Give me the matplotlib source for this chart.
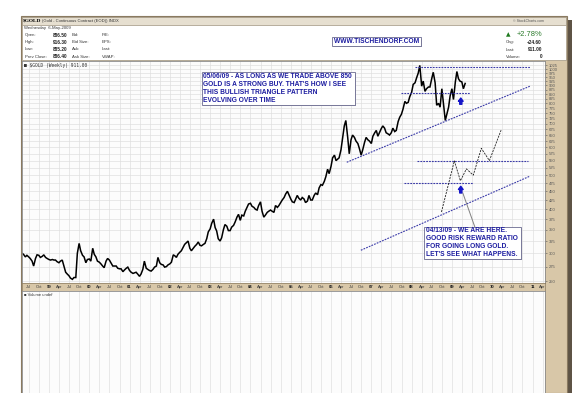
import numpy as np
import pandas as pd
import matplotlib
matplotlib.use("Agg")
import matplotlib.pyplot as plt
from matplotlib.patches import Rectangle
from matplotlib.ticker import NullLocator, NullFormatter

W, H = 585, 393

# semi-monthly closes of $GOLD (1st and 15th of each month)
gold_start = "1998-05-01"
gold_close = [
    300, 298, 293, 296, 293, 290, 285, 276, 290, 297, 296, 292, 294, 297, 292, 290,
    288, 287, 288, 287, 287, 284, 282, 285, 287, 277, 265, 262, 259, 255, 253, 256, 256, 300, 320, 305, 296, 293, 282, 288,
    289, 285, 310, 298, 293, 285, 283, 280, 276, 273, 285, 290, 287, 282, 276, 276, 276, 272, 271, 271, 266, 269, 272, 274,
    268, 265, 263, 264, 265, 262, 258, 262, 270, 285, 272, 270, 268, 267, 270, 274, 276, 292, 282, 279, 278, 274, 275, 278,
    280, 283, 297, 295, 292, 298, 302, 305, 312, 318, 322, 325, 310, 305, 310, 314, 318, 323, 316, 315, 318, 320, 330, 345,
    352, 365, 375, 355, 347, 330, 325, 332, 350, 362, 358, 348, 348, 356, 360, 368, 380, 387, 372, 385, 383, 395, 405, 414,
    416, 408, 405, 400, 398, 410, 420, 395, 380, 385, 392, 395, 398, 395, 392, 410, 405, 410, 418, 425, 432, 442, 450, 440,
    428, 420, 418, 428, 438, 430, 425, 432, 428, 418, 422, 438, 425, 425, 438, 445, 440, 460, 470, 468, 480, 495, 520, 505,
    530, 560, 570, 550, 555, 560, 590, 635, 690, 715, 640, 575, 630, 650, 640, 625, 615, 595, 570, 590, 620, 640, 630, 625,
    615, 645, 660, 670, 645, 660, 678, 690, 680, 660, 655, 650, 660, 680, 665, 670, 710, 730, 745, 770, 810, 800, 805, 835,
    860, 905, 915, 945, 975, 1025, 895, 925, 865, 880, 890, 890, 940, 980, 915, 790, 800, 780, 880, 800, 715, 745, 780, 840,
    880, 820, 920, 985, 940, 925, 920, 880, 911,
]

y_ticks = list(range(250, 1026, 25))

# drawn annotations (decimal year, price)
top_line_x, top_line_y = [2008.08, 2010.94], [1013, 1013]
mid_line_x, mid_line_y = [2007.73, 2009.45], [853, 853]
upper_trend_x, upper_trend_y = [2006.39, 2010.94], [544, 895]
lower_trend_x, lower_trend_y = [2006.74, 2010.94], [306, 497]
low_line_x, low_line_y = [2007.81, 2009.52], [476, 476]
proj_line_x, proj_line_y = [2008.13, 2010.89], [549, 549]
zigzag_x = [2008.74, 2009.06, 2009.21, 2009.36, 2009.53, 2009.73, 2009.93, 2010.22]
zigzag_y = [393, 549, 482, 521, 500, 596, 550, 671]

TAN = "#d8c7a8"
BLUE_TXT = "#1c1ca0"
DASH_BLUE = "#3a3aa8"

dates = pd.date_range(gold_start, periods=len(gold_close), freq="SMS")
xs = dates.year + (dates.dayofyear - 1) / 365.25

fig = plt.figure(figsize=(W / 100, H / 100), dpi=100)
fig.patch.set_facecolor("white")


def px_axes(x0, y0, x1, y1):
    return fig.add_axes([x0 / W, 1 - y1 / H, (x1 - x0) / W, (y1 - y0) / H])


def prect(x0, y0, x1, y1, **kw):
    r = Rectangle((x0 / W, 1 - y1 / H), (x1 - x0) / W, (y1 - y0) / H,
                  transform=fig.transFigure, **kw)
    fig.add_artist(r)
    return r


def ftext(x, y, s, **kw):
    kw.setdefault("va", "center")
    kw.setdefault("family", ["Liberation Sans", "DejaVu Sans"])
    return fig.text(x / W, 1 - y / H, s, **kw)


# frame, shadow and tan background
prect(567, 20, 572, 393, facecolor="#5e5345", edgecolor="none", zorder=-3)
prect(21, 16, 567, 393, facecolor=TAN, edgecolor="#8a7a60", lw=0.8, zorder=-2)
prect(22, 17, 566, 60, facecolor="white", edgecolor="#a09480", lw=0.5, zorder=-1)
prect(22, 17, 566, 24.5, facecolor="#e6dfd0", edgecolor="#a09480", lw=0.5, zorder=-1)

xmin, xmax = 1998.33, 2011.31
quarters = [y + m / 12 for y in range(1998, 2012) for m in (0, 3, 6, 9)]
quarters = [q for q in quarters if xmin < q < xmax]

# price panel
ax = px_axes(22, 61, 545, 283)
ax.set_facecolor("#fcfcfc")
ax.set_yscale("log")
ax.set_xlim(xmin, xmax)
ax.set_ylim(247, 1055)
ax.plot(xs, gold_close, color="black", lw=1.1, solid_joinstyle="miter")

ax.yaxis.tick_right()
ax.set_yticks(y_ticks)
ax.set_yticklabels([str(v) for v in y_ticks], fontsize=3.0, color="#444444",
                   family="Liberation Sans")
ax.yaxis.set_minor_locator(NullLocator())
ax.yaxis.set_minor_formatter(NullFormatter())
ax.tick_params(axis="y", length=1.5, width=0.4, pad=1.5, colors="#555555")
ax.set_xticks(quarters)
ax.tick_params(axis="x", length=0, labelbottom=False)
ax.grid(True, color="#dddddd", lw=0.45)
for s in ax.spines.values():
    s.set_color("#8a8a8a")
    s.set_linewidth(0.6)

dash = (0, (1.6, 1.0))
for lx, ly in [(top_line_x, top_line_y), (mid_line_x, mid_line_y),
               (upper_trend_x, upper_trend_y), (lower_trend_x, lower_trend_y),
               (low_line_x, low_line_y), (proj_line_x, proj_line_y)]:
    ax.plot(lx, ly, color=DASH_BLUE, lw=0.8, ls=dash)
ax.plot(zigzag_x, zigzag_y, color="#222222", lw=0.6, ls=(0, (2.5, 1.2)))

# blue arrows and connector
arrow_kw = dict(arrowstyle="simple,head_width=1.3,head_length=0.9,tail_width=0.6",
                color="#1515c8", mutation_scale=2.6, shrinkA=0, shrinkB=0)
ax.annotate("", xy=(2009.22, 828), xytext=(2009.22, 795), arrowprops=arrow_kw)
ax.annotate("", xy=(2009.22, 465), xytext=(2009.22, 445), arrowprops=arrow_kw)
ax.plot([2009.27, 2009.57], [445, 356], color="#808080", lw=0.7)

ax.text(0.003, 0.99, "\u25a0 $GOLD (Weekly) 911.00", transform=ax.transAxes,
        fontsize=3.3, family="DejaVu Sans Mono", va="top", ha="left", color="#333333")

# date band
band = px_axes(22, 283, 545, 290.5)
band.set_facecolor(TAN)
band.set_xlim(xmin, xmax)
band.set_ylim(0, 1)
band.set_xticks([])
band.set_yticks([])
for s in band.spines.values():
    s.set_color("#8a7a60")
    s.set_linewidth(0.5)
names = {3: "Apr", 6: "Jul", 9: "Oct"}
for q in quarters:
    m = int(round((q % 1) * 12))
    if m == 0:
        band.text(q, 0.5, f"{int(round(q)) % 100:02d}", fontsize=3.1, fontweight="bold",
                  ha="center", va="center", family="Liberation Sans", color="#222222")
    else:
        band.text(q, 0.5, names[m], fontsize=3.0, ha="center", va="center",
                  family="Liberation Sans", color="#333333")

# volume panel
vol = px_axes(22, 291, 545, 393)
vol.set_facecolor("#fcfcfc")
vol.set_xlim(xmin, xmax)
vol.set_ylim(0, 1)
vol.set_xticks(quarters)
vol.set_yticks([])
vol.tick_params(axis="x", length=0, labelbottom=False)
vol.grid(True, axis="x", color="#dddddd", lw=0.45)
for s in vol.spines.values():
    s.set_color("#8a8a8a")
    s.set_linewidth(0.6)
vol.text(0.003, 0.985, "\u25a0 Volume undef", transform=vol.transAxes, fontsize=3.0,
         va="top", ha="left", family="Liberation Sans", color="#333333")

# header texts
ftext(23, 20.8, "$GOLD", fontsize=3.9, fontweight="bold", family="Liberation Serif")
ftext(42, 20.8, "(Gold - Continuous Contract (EOD)) INDX", fontsize=3.0, color="#333333")
ftext(544, 20.8, "\u00a9 StockCharts.com", fontsize=2.6, ha="right", color="#555555")
ftext(23.5, 28.3, "Wednesday  6-May-2009", fontsize=3.1, color="#333333")
rows_y = [35.2, 42.3, 49.4, 56.6]
for yy, a, v, b, c in zip(rows_y,
                          ["Open:", "High:", "Low:", "Prev Close:"],
                          ["886.50", "916.30", "885.20", "886.40"],
                          ["Bid:", "Bid Size:", "Ask:", "Ask Size:"],
                          ["P/E:", "EPS:", "Last:", "VWAP:"]):
    ftext(25, yy, a, fontsize=3.1, color="#333333")
    ftext(52.5, yy, v, fontsize=3.4, fontweight="bold", color="#222222")
    ftext(71.5, yy, b, fontsize=3.1, color="#333333")
    ftext(101.7, yy, c, fontsize=3.1, color="#333333")

ftext(506, 34.5, "\u25b2", fontsize=4.2, color="#1f7a1f", family="DejaVu Sans")
ftext(542, 34.5, "+2.78%", fontsize=5.4, ha="right", color="#2a7a2a")
for yy, a, v in zip([42.3, 49.6, 57.0], ["Chg:", "Last:", "Volume:"], ["+24.60", "911.00", "0"]):
    ftext(506, yy, a, fontsize=3.1, color="#333333")
    ftext(542, yy, v, fontsize=3.4, fontweight="bold", ha="right", color="#222222")


def note_box(x0, y0, x1, y1, lines, ys, x_text=None, ha="left"):
    prect(x0 + 1.3, y0 + 1.3, x1 + 1.3, y1 + 1.3, facecolor="#9a9aa8", edgecolor="none", zorder=9)
    prect(x0, y0, x1, y1, facecolor="white", edgecolor="#6a6a90", lw=0.6, zorder=10)
    for s, yy in zip(lines, ys):
        ftext(x_text if x_text is not None else x0 + 1.5, yy, s, fontsize=4.8,
              fontweight="bold", color=BLUE_TXT, ha=ha, zorder=11)


note_box(331.7, 37.3, 420.7, 45.5, ["WWW.TISCHENDORF.COM"], [41.4], x_text=376.2, ha="center")
note_box(201.5, 72.3, 355, 104.5,
         ["05/06/09 - AS LONG AS WE TRADE ABOVE 850",
          "GOLD IS A STRONG BUY. THAT'S HOW I SEE",
          "THIS BULLISH TRIANGLE PATTERN",
          "EVOLVING OVER TIME"],
         [76.3, 84.4, 92.5, 100.5])
note_box(424.3, 226.7, 521, 258.5,
         ["04/13/09 - WE ARE HERE.",
          "GOOD RISK REWARD RATIO",
          "FOR GOING LONG GOLD.",
          "LET'S SEE WHAT HAPPENS."],
         [230.4, 238.6, 246.8, 254.9])

fig.savefig("out.png", dpi=100)
